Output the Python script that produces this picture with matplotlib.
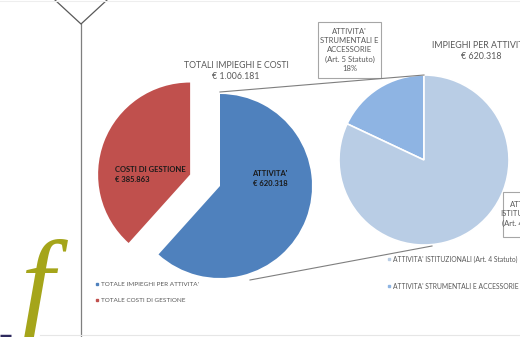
import matplotlib
matplotlib.use("Agg")
import matplotlib.pyplot as plt
from matplotlib.patches import Rectangle

# ---- data ----
main_labels = ["TOTALE IMPIEGHI PER ATTIVITA'", "TOTALE COSTI DI GESTIONE"]
main_values = [620318, 385863]
main_colors = ["#4F81BD", "#C0504D"]
sub_labels = ["ATTIVITA' STRUMENTALI E ACCESSORIE (Art. 5 Statuto)",
              "ATTIVITA' ISTITUZIONALI (Art. 4 Statuto)"]
sub_values = [18, 82]
sub_colors = ["#8EB4E3", "#B9CDE5"]
title_main = "TOTALI IMPIEGHI E COSTI\n€ 1.006.181"
title_sub = "IMPIEGHI PER ATTIVITA'\n€ 620.318"

W, H = 520, 337
fig = plt.figure(figsize=(W / 100, H / 100), dpi=100)
ax = fig.add_axes([0, 0, 1, 1])
plt.rcParams['font.family'] = ['Lato', 'DejaVu Sans']

def Y(y):
    return H - y

gray = "#595959"

# main pie (blue at centre, red exploded)
ax.pie(main_values, colors=main_colors, startangle=90, counterclock=False,
       center=(220, Y(186)), radius=92, explode=[0, 32], frame=True,
       wedgeprops=dict(linewidth=0))
# secondary pie
ax.pie(sub_values, colors=sub_colors, startangle=90, counterclock=True,
       center=(424, Y(160)), radius=85, frame=True,
       wedgeprops=dict(edgecolor="white", linewidth=1.2))
ax.set_xlim(0, W)
ax.set_ylim(0, H)
ax.set_aspect("equal")
ax.axis("off")

# connector lines
ax.plot([220, 424], [Y(92), Y(75)], color="#7f7f7f", lw=0.8)
ax.plot([250, 432], [Y(280), Y(246)], color="#7f7f7f", lw=0.8)

# titles
ax.text(236, Y(71), title_main, ha="center", va="center", fontsize=6.3,
        color=gray, linespacing=1.35)
ax.text(432, Y(51), title_sub, ha="left", va="center", fontsize=6.4,
        color=gray, linespacing=1.35, multialignment="center")

# slice labels
ax.text(115, Y(175), "COSTI DI GESTIONE\n€ 385.863", ha="left", va="center",
        fontsize=5.5, fontweight="bold", color="#1a1a1a", linespacing=1.5)
ax.text(270, Y(178), "ATTIVITA'\n€ 620.318", ha="center", va="center",
        fontsize=5.5, fontweight="bold", color="#1a1a1a", linespacing=1.5)

# callout boxes
ax.add_patch(Rectangle((318, Y(78)), 63, 56, facecolor="white",
                       edgecolor="#a6a6a6", lw=0.8))
ax.text(349.5, Y(50), "ATTIVITA'\nSTRUMENTALI E\nACCESSORIE\n(Art. 5 Statuto)\n18%",
        ha="center", va="center", fontsize=5.5, color=gray, linespacing=1.35)
ax.add_patch(Rectangle((503, Y(237)), 40, 45, facecolor="white",
                       edgecolor="#a6a6a6", lw=0.8, clip_on=True))
ax.text(527, Y(214), "ATTIVITA'\nISTITUZIONALI\n(Art. 4 Statuto)", ha="center",
        va="center", fontsize=5.5, color=gray, linespacing=1.35)

# legends
for i, (lab, col) in enumerate(zip(main_labels, main_colors)):
    y = Y(284 + 16 * i)
    ax.plot(97, y, marker="s", ms=2, color=col, ls="none")
    ax.text(101, y, lab, ha="left", va="center", fontsize=4.6, color=gray)
for i, (lab, col) in enumerate(zip(sub_labels[::-1], sub_colors[::-1])):
    y = Y(259 + 27 * i)
    ax.plot(389, y, marker="s", ms=2, color=col, ls="none")
    ax.text(393, y, lab, ha="left", va="center", fontsize=4.85, color=gray)

# slide decorations
ax.plot([81, 81], [Y(24), 0], color="#7f7f7f", lw=0.9)
ax.plot([55, 81, 107], [H, Y(24), H], color="#595959", lw=0.9)
ax.plot([40, W], [Y(335), Y(335)], color="#e6e6e6", lw=0.8)
ax.plot([0, W], [H - 0.5, H - 0.5], color="#eeeeee", lw=0.8)
ax.text(37, Y(294), "f", ha="center", va="center", fontsize=86,
        color="#A5A51A", family="Liberation Serif", style="italic")
ax.plot([0, 11], [1, 1], color="#2E2A5E", lw=2.5, solid_capstyle="butt")

fig.savefig("out.png", dpi=100)
